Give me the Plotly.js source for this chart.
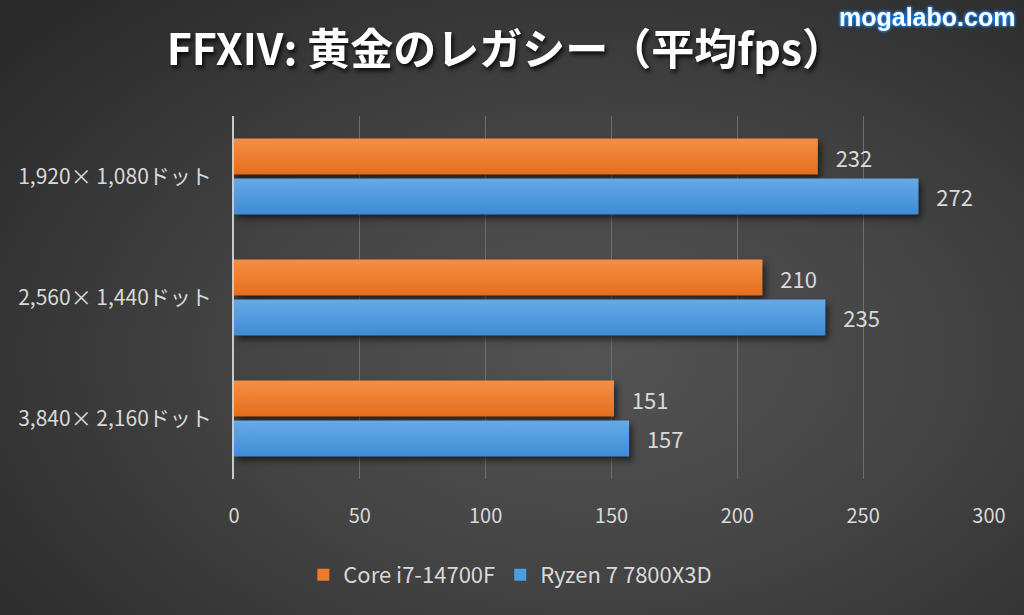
<!DOCTYPE html>
<html>
<head>
<meta charset="utf-8">
<script src="https://cdn.plot.ly/plotly-3.0.1.min.js"></script>
<style>
  html, body { margin:0; padding:0; width:1024px; height:615px; overflow:hidden;
    background: radial-gradient(ellipse 75% 80% at 58% 58%, #535353 0%, #444 45%, #333 80%, #2a2a2a 100%); }
  #chart { width:1024px; height:615px; }
  .trace.bars path { filter: drop-shadow(3px 4px 3px rgba(0,0,0,0.55)); }
  .gtitle { filter: drop-shadow(2px 3px 2px rgba(0,0,0,0.8)); }
  .annotation-text { filter: drop-shadow(0 0 1.5px #1a8cff) drop-shadow(0 0 1px #1a8cff); }
</style>
</head>
<body>
<div id="chart"></div>
<script>
const categories = ["1,920× 1,080ドット", "2,560× 1,440ドット", "3,840× 2,160ドット"];
const seriesNames = ["Core i7-14700F", "Ryzen 7 7800X3D"];
const coreI7 = [232, 210, 151];
const ryzen7 = [272, 235, 157];
const xTicks = [0, 50, 100, 150, 200, 250, 300];

const font = "'Noto Sans CJK JP', 'Noto Sans', sans-serif";
const labelColor = "#d9d9d9";

function barTrace(name, values, color) {
  return {
    type: "bar", orientation: "h", name: name,
    x: values, y: categories,
    marker: { color: color, line: { width: 0 } },
    text: values.map(String),
    texttemplate: "\u00a0\u00a0\u00a0%{text}",
    textposition: "outside",
    textfont: { family: font, size: 22, color: labelColor },
    cliponaxis: false
  };
}

const data = [
  barTrace(seriesNames[0], coreI7, "#EE7A2C"),
  barTrace(seriesNames[1], ryzen7, "#4D9BE0")
];

const layout = {
  width: 1024, height: 615,
  paper_bgcolor: "rgba(0,0,0,0)", plot_bgcolor: "rgba(0,0,0,0)",
  margin: { l: 234, r: 35, t: 116, b: 136 },
  font: { family: font, color: labelColor },
  title: { text: "<b>FFXIV: 黄金のレガシー（平均fps）</b>", x: 0.494, xanchor: "center", y: 0.918, yanchor: "middle",
           font: { family: font, size: 43, color: "#ffffff" } },
  barmode: "group", bargap: 0.34, bargroupgap: 0.1,
  xaxis: {
    range: [0, 300], tickvals: xTicks, ticktext: xTicks.map(String),
    showgrid: true, gridcolor: "#6e6e6e", gridwidth: 1,
    zeroline: false, showline: false,
    ticks: "outside", ticklen: 19, tickcolor: "rgba(0,0,0,0)",
    tickfont: { family: font, size: 20, color: labelColor },
    fixedrange: true
  },
  yaxis: {
    autorange: "reversed", type: "category",
    showgrid: false, zeroline: false,
    showline: true, linecolor: "#c8c8c8", linewidth: 2,
    ticks: "outside", ticklen: 16, tickcolor: "rgba(0,0,0,0)",
    tickfont: { family: font, size: 21, color: labelColor },
    fixedrange: true
  },
  showlegend: true,
  legend: {
    orientation: "h", x: 0.366, xanchor: "center", y: -0.264, yanchor: "middle",
    font: { family: font, size: 22, color: labelColor },
    bgcolor: "rgba(0,0,0,0)", traceorder: "normal", itemwidth: 30
  },
  annotations: [{
    text: "<b>mogalabo.com</b>", xref: "paper", yref: "paper",
    x: (1017 - 234) / 755, xanchor: "right", y: 1 + (116 - 17) / 363, yanchor: "middle",
    showarrow: false, font: { family: "'Liberation Sans', Arial, sans-serif", size: 25, color: "#ffffff" }
  }]
};

Plotly.newPlot("chart", data, layout, { staticPlot: true, displayModeBar: false }).then(function (gd) {
  const svg = gd.querySelector("svg.main-svg");
  const ns = "http://www.w3.org/2000/svg";
  let defs = svg.querySelector("defs");
  if (!defs) { defs = document.createElementNS(ns, "defs"); svg.insertBefore(defs, svg.firstChild); }
  const grads = [["gO", "#F58E46", "#E56E1C"], ["gB", "#66AAE6", "#3D8CD6"]];
  grads.forEach(function (g) {
    const lg = document.createElementNS(ns, "linearGradient");
    lg.setAttribute("id", g[0]); lg.setAttribute("x1", "0"); lg.setAttribute("y1", "0");
    lg.setAttribute("x2", "0"); lg.setAttribute("y2", "1");
    [["0", g[1]], ["1", g[2]]].forEach(function (s) {
      const st = document.createElementNS(ns, "stop");
      st.setAttribute("offset", s[0]); st.setAttribute("stop-color", s[1]);
      lg.appendChild(st);
    });
    defs.appendChild(lg);
  });
  const traces = gd.querySelectorAll(".barlayer .trace.bars");
  traces.forEach(function (t, i) {
    t.querySelectorAll(".point path").forEach(function (p) {
      p.style.fill = "url(#" + grads[i][0] + ")";
    });
  });
});
</script>
</body>
</html>
